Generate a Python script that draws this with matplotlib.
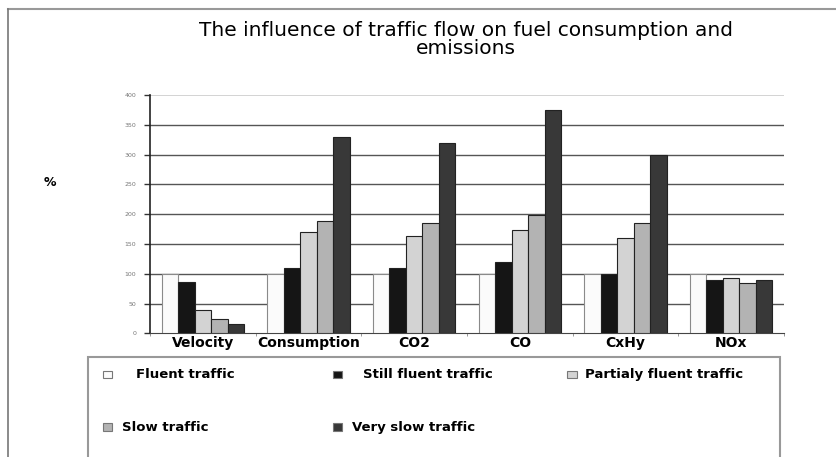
import numpy as np
import matplotlib
matplotlib.use("Agg")
import matplotlib.pyplot as plt
from matplotlib.patches import Rectangle
from matplotlib.lines import Line2D

categories = ["Velocity", "Consumption", "CO2", "CO", "CxHy", "NOx"]
series_names = ["Fluent traffic", "Still fluent traffic", "Partialy fluent traffic",
                "Slow traffic", "Very slow traffic"]
fluent = [100, 100, 100, 100, 100, 100]
still_fluent = [86, 110, 110, 119, 99, 89]
partialy_fluent = [39, 170, 164, 174, 160, 93]
slow = [24, 189, 185, 199, 185, 84]
very_slow = [15, 330, 320, 375, 300, 89]
series = [fluent, still_fluent, partialy_fluent, slow, very_slow]
colors = ["#fbfbfb", "#151515", "#d3d3d3", "#b3b3b3", "#383838"]
y_ticks = [0, 50, 100, 150, 200, 250, 300, 350, 400]

fig = plt.figure(figsize=(8.37, 4.57), dpi=100)
ax = fig.add_axes([0.1792, 0.2707, 0.7575, 0.5214])

width = 0.156
x = np.arange(len(categories)) + 0.5
for j, (vals, col) in enumerate(zip(series, colors)):
    edge = "#8a8a8a" if j == 0 else "#222222"
    ax.bar(x + (j - 2) * width, vals, width, color=col, edgecolor=edge,
           linewidth=0.8, zorder=3)

ax.set_xlim(0, 6)
ax.set_ylim(0, 400)
ax.set_yticks(y_ticks)
ax.set_yticklabels([str(v) for v in y_ticks], fontsize=4.5, color="#777777")
for v in y_ticks[1:-1]:
    ax.axhline(v, color="#555555", linewidth=1, zorder=1)
ax.axhline(400, color="#cccccc", linewidth=1.2, zorder=1)

ax.set_xticks(x)
ax.set_xticklabels(categories, fontsize=10, fontweight="bold", family="DejaVu Sans")
ax.tick_params(axis="x", length=0, pad=2)
ax.set_xticks(np.arange(0, 7), minor=True)
ax.tick_params(axis="x", which="minor", length=2, color="#888888")
ax.tick_params(axis="y", length=4, width=1, color="#333333", pad=6)

for s in ["top", "right"]:
    ax.spines[s].set_visible(False)
ax.spines["left"].set_color("#222222")
ax.spines["left"].set_linewidth(1.2)
ax.spines["bottom"].set_color("#444444")

fig.text(0.557, 0.913, "The influence of traffic flow on fuel consumption and\nemissions",
         ha="center", va="center", fontsize=14.5, family="DejaVu Sans",
         linespacing=0.95)
fig.text(0.06, 0.6, "%", fontsize=9, fontweight="bold", family="DejaVu Sans",
         ha="center", va="center")

# outer frame
fig.add_artist(Line2D([0.0096, 1.0], [0.980, 0.980], color="#999999", lw=1.5,
                      transform=fig.transFigure))
fig.add_artist(Line2D([0.0096, 0.0096], [0.0, 0.980], color="#777777", lw=1.2,
                      transform=fig.transFigure))

# legend box
fig.add_artist(Rectangle((0.105, -0.01), 0.827, 0.229, transform=fig.transFigure,
                         facecolor="none", edgecolor="#999999", lw=1.5))
leg_pos = [(0.123, 0.160, 0.162), (0.398, 0.160, 0.434), (0.678, 0.160, 0.699),
           (0.123, 0.045, 0.146), (0.398, 0.045, 0.421)]
for (mx, my, tx), name, col in zip(leg_pos, series_names, colors):
    fig.add_artist(Rectangle((mx, my + 0.012), 0.011, 0.017, transform=fig.transFigure,
                             facecolor=col, edgecolor="#777777", lw=0.8))
    fig.text(tx, my + 0.02, name, fontsize=9.5, fontweight="bold", family="DejaVu Sans",
             va="center", ha="left")

fig.savefig("out.png", dpi=100)
